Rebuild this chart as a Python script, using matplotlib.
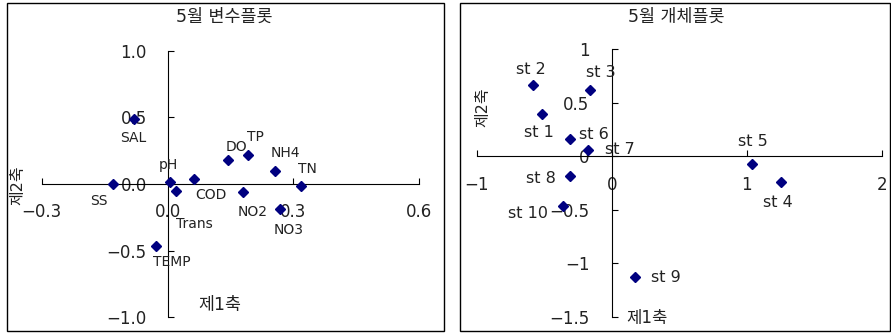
import matplotlib
matplotlib.use("Agg")
import matplotlib.pyplot as plt
from matplotlib.patches import Rectangle

plt.rcParams['font.family'] = ['DejaVu Sans', 'Noto Sans CJK KR']

# ---- data: variable plot (May) ----
var_names = ["SAL", "SS", "pH", "Trans", "COD", "DO", "TP", "NH4", "TN", "NO2", "NO3", "TEMP"]
var_x = [-0.079, -0.129, 0.006, 0.020, 0.064, 0.144, 0.191, 0.255, 0.317, 0.179, 0.267, -0.028]
var_y = [0.488, 0.000, 0.015, -0.055, 0.040, 0.180, 0.220, 0.100, -0.013, -0.062, -0.190, -0.467]
var_xticks = [-0.3, 0.0, 0.3, 0.6]
var_xticklabels = ["−0.3", "0.0", "0.3", "0.6"]
var_yticks = [-1.0, -0.5, 0.0, 0.5, 1.0]
var_yticklabels = ["−1.0", "−0.5", "0.0", "0.5", "1.0"]

# ---- data: object plot (May) ----
st_names = ["st 1", "st 2", "st 3", "st 4", "st 5", "st 6", "st 7", "st 8", "st 9", "st 10"]
st_x = [-0.518, -0.580, -0.160, 1.251, 1.037, -0.312, -0.172, -0.312, 0.174, -0.361]
st_y = [0.396, 0.664, 0.623, -0.243, -0.069, 0.162, 0.062, -0.184, -1.125, -0.464]
st_xticks = [-1, 0, 1, 2]
st_xticklabels = ["−1", "0", "1", "2"]
st_yticks = [-1.5, -1.0, -0.5, 0.0, 0.5, 1.0]
st_yticklabels = ["−1.5", "−1", "−0.5", "0", "0.5", "1"]

# label offsets in points (layout)
var_offsets = {"SAL": (-1, -13.5), "SS": (-10.6, -12.2), "pH": (-0.9, 12.2),
               "Trans": (13.5, -23.5), "COD": (11.7, -11.7), "DO": (5.8, 9.1),
               "TP": (5.3, 12.7), "NH4": (7.9, 12.5), "TN": (4.8, 12),
               "NO2": (7.4, -14), "NO3": (6.7, -15.1), "TEMP": (11.5, -11.1)}
st_offsets = {"st 1": (-2.2, -13.7), "st 2": (-1.7, 11.3), "st 3": (7.7, 12),
              "st 4": (-1.7, -14.4), "st 5": (1.2, 15.6), "st 6": (17.3, 3.2),
              "st 7": (22.8, 0), "st 8": (-20.7, -1.9), "st 9": (22.3, -0.5),
              "st 10": (-25.4, -5.5)}

W, H = 891, 334
fig = plt.figure(figsize=(W / 100, H / 100), dpi=100)
TXT = '#222222'
NAVY = '#000080'


def px_rect(x0, y0, x1, y1):
    return [x0 / W, 1 - y1 / H, (x1 - x0) / W, (y1 - y0) / H]


# frames
for (x0, y0, x1, y1) in [(6.5, 3.3, 444.3, 331.0), (460.3, 3.3, 890.0, 331.0)]:
    fig.patches.append(Rectangle((x0 / W, 1 - y1 / H), (x1 - x0) / W, (y1 - y0) / H,
                                 transform=fig.transFigure, fill=False,
                                 edgecolor='black', linewidth=1.0))


def setup(ax, xlim, ylim, xt, xtl, yt, ytl, xpad, ypad, fs):
    ax.set_xlim(*xlim)
    ax.set_ylim(*ylim)
    ax.patch.set_visible(False)
    for s in ['top', 'right']:
        ax.spines[s].set_visible(False)
    ax.spines['left'].set_position(('data', 0))
    ax.spines['bottom'].set_position(('data', 0))
    for s in ['left', 'bottom']:
        ax.spines[s].set_linewidth(0.8)
    ax.set_xticks(xt)
    ax.set_xticklabels(xtl)
    ax.set_yticks(yt)
    ax.set_yticklabels(ytl)
    ax.tick_params(axis='x', direction='in', length=4.5, width=0.8, pad=xpad,
                   labelsize=fs, labelcolor=TXT)
    ax.tick_params(axis='y', direction='in', length=4.5, width=0.8, pad=ypad,
                   labelsize=fs, labelcolor=TXT)


# left: variable plot
ax1 = fig.add_axes(px_rect(41.7, 50.7, 419.3, 317.3))
setup(ax1, (-0.3, 0.6), (-1.0, 1.0), var_xticks, var_xticklabels,
      var_yticks, var_yticklabels, 13.5, 15, 12)
ax1.plot(var_x, var_y, linestyle='none', marker='D', markersize=4.6,
         color=NAVY, clip_on=False, zorder=3)
for n, x, y in zip(var_names, var_x, var_y):
    ax1.annotate(n, (x, y), xytext=var_offsets[n], textcoords='offset points',
                 ha='center', va='center', fontsize=10, color=TXT)

# right: object plot
ax2 = fig.add_axes(px_rect(476.7, 49.3, 881.7, 316.7))
setup(ax2, (-1, 2), (-1.5, 1.0), st_xticks, st_xticklabels,
      st_yticks, st_yticklabels, 14, 16, 12)
ax2.plot(st_x, st_y, linestyle='none', marker='D', markersize=4.6,
         color=NAVY, clip_on=False, zorder=3)
for n, x, y in zip(st_names, st_x, st_y):
    ax2.annotate(n, (x, y), xytext=st_offsets[n], textcoords='offset points',
                 ha='center', va='center', fontsize=11.5, color=TXT)

# titles and axis names
def ftext(x, y, s, **kw):
    fig.text(x / W, 1 - y / H, s, ha='center', va='center', color=TXT, **kw)

ftext(224, 17, "5월 변수플롯", fontsize=12.5)
ftext(676.7, 16.7, "5월 개체플롯", fontsize=12.5)
ftext(220, 305, "제1축", fontsize=12.5)
ftext(18, 185, "제2축", fontsize=11.5, rotation=90)
ftext(646.7, 318.3, "제1축", fontsize=12)
ftext(483.3, 107, "제2축", fontsize=11.5, rotation=90)

fig.savefig("out.png", dpi=100)
